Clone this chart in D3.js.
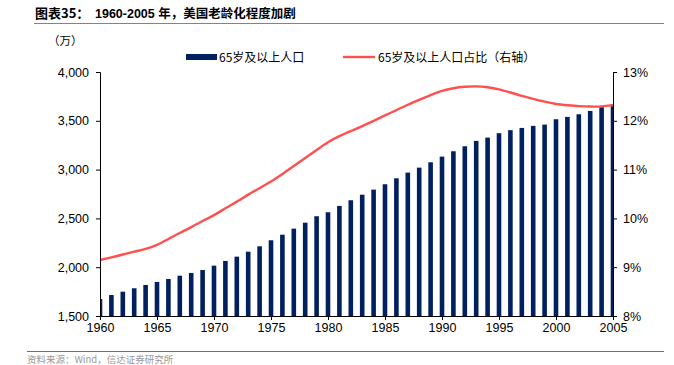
<!DOCTYPE html>
<html>
<head>
<meta charset="utf-8">
<script src="https://cdn.jsdelivr.net/npm/d3@7"></script>
<style>
    body { margin: 0; background: #fff; }
    svg { display: block; }
    .axis text { font-family: "Liberation Sans", Arial, sans-serif; font-size: 12.5px; fill: #000; }
    .axis path, .axis line { stroke: #000; stroke-width: 1; }
</style>
</head>
<body>
<div id="chart"></div>
<script>
// years on the x axis
let years = d3.range(1960, 2006);

// 65+ population (10k persons), left axis
let population = [
    1674, 1715, 1749, 1784, 1818, 1849, 1879, 1913, 1941, 1971,
    2016, 2064, 2108, 2159, 2214, 2276, 2333, 2395, 2456, 2522,
    2563, 2628, 2686, 2743, 2795, 2850, 2911, 2969, 3020, 3075,
    3133, 3188, 3239, 3294, 3328, 3373, 3404, 3427, 3448, 3461,
    3516, 3540, 3567, 3601, 3639, 3670
];

// share of 65+ in total population (%), right axis
let share = [
    9.15, 9.20, 9.26, 9.32, 9.37, 9.45, 9.58, 9.70, 9.82, 9.95,
    10.06, 10.21, 10.34, 10.49, 10.62, 10.75, 10.91, 11.07, 11.24, 11.40,
    11.57, 11.69, 11.79, 11.89, 12.00, 12.11, 12.22, 12.33, 12.43, 12.53,
    12.62, 12.67, 12.70, 12.71, 12.69, 12.65, 12.58, 12.51, 12.45, 12.39,
    12.34, 12.32, 12.30, 12.29, 12.29, 12.32
];

let leftTicks = [1500, 2000, 2500, 3000, 3500, 4000];
let rightTicks = [8, 9, 10, 11, 12, 13];
let xTicks = d3.range(1960, 2006, 5);

let seriesNames = ["65岁及以上人口", "65岁及以上人口占比（右轴）"];
let titleText = "1960-2005 年，美国老龄化程度加剧";

let data = years.map((y, i) => ({year: y, pop: population[i], share: share[i]}));

let width = 674, height = 365;
let margin = {top: 72, right: 61, bottom: 49, left: 100};
let innerW = width - margin.left - margin.right,
    innerH = height - margin.top - margin.bottom;

let svg = d3.select("#chart").append("svg")
    .attr("width", width)
    .attr("height", height);

// title + rules
svg.append("text")
    .attr("x", 35)
    .attr("y", 18)
    .attr("font-weight", "bold")
    .attr("font-size", 13)
    .attr("font-family", "'Noto Sans CJK SC', sans-serif")
    .attr("fill", "#000")
    .text("图表35：");

svg.append("text")
    .attr("x", 95)
    .attr("y", 18)
    .attr("font-weight", "bold")
    .attr("font-size", 12.5)
    .attr("font-family", "'Liberation Sans', 'Noto Sans CJK SC', sans-serif")
    .attr("fill", "#000")
    .text(titleText);

svg.append("line")
    .attr("x1", 34).attr("x2", 664)
    .attr("y1", 23.5).attr("y2", 23.5)
    .attr("stroke", "#e8594f").attr("stroke-width", 1.2);

svg.append("line")
    .attr("x1", 27).attr("x2", 664)
    .attr("y1", 351.5).attr("y2", 351.5)
    .attr("stroke", "#e8402f").attr("stroke-width", 1.2);

svg.append("text")
    .attr("x", 27)
    .attr("y", 363)
    .attr("font-family", "'Noto Sans CJK SC', sans-serif")
    .attr("font-size", 9.5)
    .attr("fill", "#999")
    .text("资料来源：Wind，信达证券研究所");

svg.append("text")
    .attr("x", 48)
    .attr("y", 45)
    .attr("font-family", "'Noto Sans CJK SC', sans-serif")
    .attr("font-size", 11.5)
    .attr("fill", "#000")
    .text("（万）");

let g = svg.append("g")
    .attr("transform", `translate(${margin.left},${margin.top})`);

// scales
let x = d3.scaleLinear().domain([1960, 2005]).range([0, innerW]);
let yL = d3.scaleLinear().domain([1500, 4000]).range([innerH, 0]);
let yR = d3.scaleLinear().domain([8, 13]).range([innerH, 0]);

g.append("clipPath")
    .attr("id", "plot-clip")
    .append("rect")
    .attr("width", innerW)
    .attr("height", innerH);

let barW = 4.6;

g.append("g")
    .attr("clip-path", "url(#plot-clip)")
    .selectAll("rect")
    .data(data)
    .enter()
    .append("rect")
    .attr("x", d => x(d.year) - barW / 2)
    .attr("y", d => yL(d.pop))
    .attr("width", barW)
    .attr("height", d => innerH - yL(d.pop))
    .attr("fill", "#002060");

let line = d3.line()
    .x(d => x(d.year))
    .y(d => yR(d.share))
    .curve(d3.curveBasis);

g.append("path")
    .datum(data)
    .attr("d", line)
    .attr("fill", "none")
    .attr("stroke", "#ff5050")
    .attr("stroke-width", 2.4);

// axes
let fmt = d3.format(",");

g.append("g")
    .attr("class", "axis")
    .call(d3.axisLeft(yL).tickValues(leftTicks).tickFormat(fmt).tickSize(4).tickPadding(7));

g.append("g")
    .attr("class", "axis")
    .attr("transform", `translate(${innerW},0)`)
    .call(d3.axisRight(yR).tickValues(rightTicks).tickFormat(d => d + "%").tickSize(4).tickPadding(6));

g.append("g")
    .attr("class", "axis")
    .attr("transform", `translate(0,${innerH})`)
    .call(d3.axisBottom(x).tickValues(xTicks).tickFormat(d3.format("d")).tickSize(4).tickPadding(3));

// legend
let legend = svg.append("g")
    .attr("font-family", "'Noto Sans CJK SC', sans-serif")
    .attr("font-size", 12)
    .attr("fill", "#000");

legend.append("rect")
    .attr("x", 186).attr("y", 54)
    .attr("width", 31).attr("height", 6)
    .attr("fill", "#002060");
legend.append("text")
    .attr("x", 219).attr("y", 61.5)
    .text(seriesNames[0]);

legend.append("line")
    .attr("x1", 343).attr("x2", 375)
    .attr("y1", 57).attr("y2", 57)
    .attr("stroke", "#ff5050").attr("stroke-width", 2.4);
legend.append("text")
    .attr("x", 378).attr("y", 61.5)
    .text(seriesNames[1]);
</script>
</body>
</html>
